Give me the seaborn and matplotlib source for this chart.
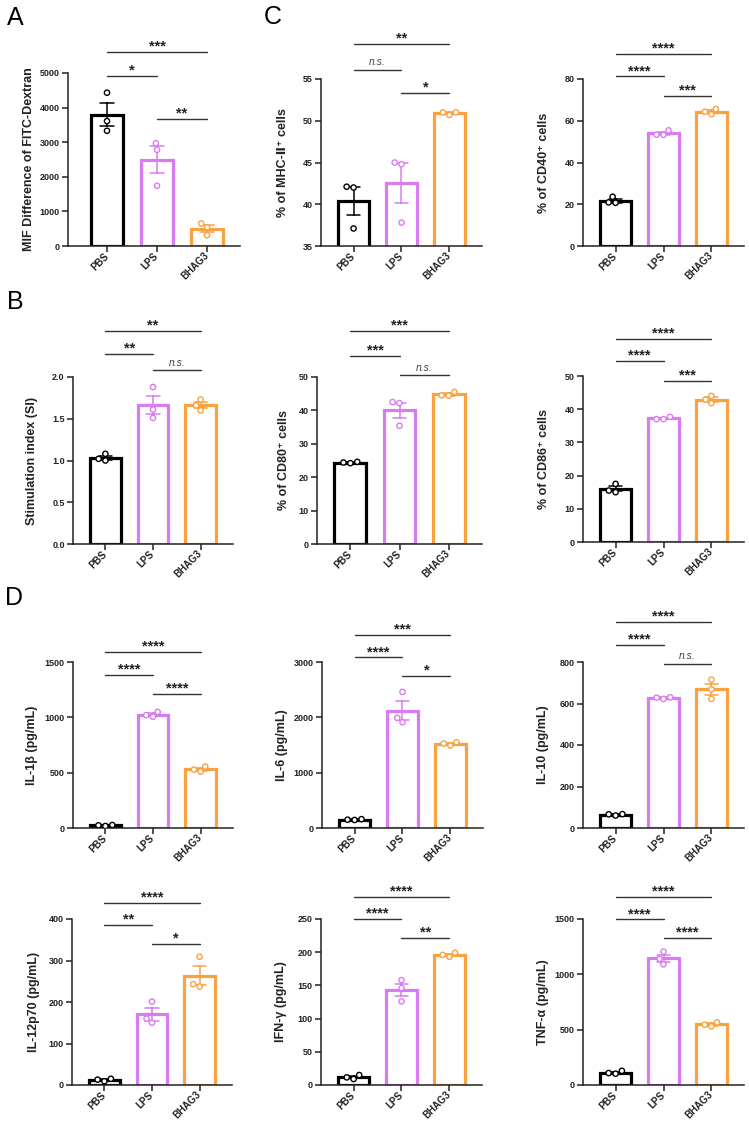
import numpy as np
import pandas as pd
import seaborn as sns
import matplotlib.pyplot as plt
from matplotlib.ticker import StrMethodFormatter

groups = ["PBS", "LPS", "BHAG3"]
colors = ["#000000", "#D97CF2", "#F9A23F"]

# values per group (PBS, LPS, BHAG3), 3 replicates each
mif = [[4430, 3610, 3330], [2970, 2780, 1740], [650, 540, 310]]
mhc = [[42.0, 42.1, 37.1], [44.8, 45.0, 37.8], [50.7, 51.0, 51.0]]
cd40 = [[20.7, 23.6, 20.9], [53.2, 55.4, 53.3], [63.1, 65.6, 64.3]]
si = [[1.00, 1.08, 1.02], [1.88, 1.61, 1.51], [1.73, 1.66, 1.60]]
cd80 = [[24.2, 24.6, 24.4], [42.2, 42.5, 35.4], [44.4, 45.5, 44.5]]
cd86 = [[15.0, 17.5, 15.5], [37.0, 37.7, 37.0], [41.8, 44.0, 42.9]]
il1b = [[18, 27, 24], [1005, 1050, 1020], [510, 555, 528]]
il6 = [[145, 160, 150], [2460, 1990, 1910], [1490, 1550, 1525]]
il10 = [[60, 67, 66], [622, 630, 628], [715, 668, 622]]
il12 = [[9, 15, 13], [201, 160, 150], [309, 243, 237]]
ifng = [[9, 15, 11.5], [158, 146, 126], [193, 199, 196]]
tnfa = [[102, 128, 108], [1205, 1140, 1090], [530, 566, 545]]

# significance: (PBS vs BHAG3, PBS vs LPS, LPS vs BHAG3)
sig_mif = ["***", "*", "**"]
sig_mhc = ["**", "n.s.", "*"]
sig_cd40 = ["****", "****", "***"]
sig_si = ["**", "**", "n.s."]
sig_cd80 = ["***", "***", "n.s."]
sig_cd86 = ["****", "****", "***"]
sig_il1b = ["****", "****", "****"]
sig_il6 = ["***", "****", "*"]
sig_il10 = ["****", "****", "n.s."]
sig_il12 = ["****", "**", "*"]
sig_ifng = ["****", "****", "**"]
sig_tnfa = ["****", "****", "****"]

panels = [
    ("MIF Difference of FITC-Dextran", mif, sig_mif, [0, 1000, 2000, 3000, 4000, 5000], 0),
    ("% of MHC-\u2161\u207a cells", mhc, sig_mhc, [35, 40, 45, 50, 55], 0),
    ("% of CD40\u207a cells", cd40, sig_cd40, [0, 20, 40, 60, 80], 0),
    ("Stimulation index (SI)", si, sig_si, [0.0, 0.5, 1.0, 1.5, 2.0], 1),
    ("% of CD80\u207a cells", cd80, sig_cd80, [0, 10, 20, 30, 40, 50], 0),
    ("% of CD86\u207a cells", cd86, sig_cd86, [0, 10, 20, 30, 40, 50], 0),
    ("IL-1\u03b2 (pg/mL)", il1b, sig_il1b, [0, 500, 1000, 1500], 0),
    ("IL-6 (pg/mL)", il6, sig_il6, [0, 1000, 2000, 3000], 0),
    ("IL-10 (pg/mL)", il10, sig_il10, [0, 200, 400, 600, 800], 0),
    ("IL-12p70 (pg/mL)", il12, sig_il12, [0, 100, 200, 300, 400], 0),
    ("IFN-\u03b3 (pg/mL)", ifng, sig_ifng, [0, 50, 100, 150, 200, 250], 0),
    ("TNF-\u03b1 (pg/mL)", tnfa, sig_tnfa, [0, 500, 1000, 1500], 0),
]

# layout in pixels: left, right, top, bottom of axes; y label centre; bracket heights (axes fraction)
boxes = [
    (68, 240, 73, 246), (321, 482, 79, 246), (583, 744, 79, 246),
    (73, 233, 377, 544), (317, 482, 377, 544), (583, 744, 376, 542),
    (73, 233, 662, 828), (322, 483, 662, 828), (583, 744, 662, 828),
    (72, 232, 919, 1085), (321, 482, 919, 1085), (583, 744, 919, 1085),
]
label_x = [29, 283, 544, 32, 284, 544, 32, 282, 543, 34, 281, 543]
bracket_y = [
    (1.121, 0.983, 0.734), (1.211, 1.056, 0.916), (1.151, 1.016, 0.900),
    (1.275, 1.140, 1.040), (1.277, 1.126, 1.010), (1.223, 1.089, 0.972),
    (1.060, 0.923, 0.809), (1.164, 1.028, 0.916), (1.241, 1.104, 0.990),
    (1.098, 0.962, 0.849), (1.134, 1.000, 0.887), (1.134, 0.998, 0.886),
]
pairs = [(0, 2), (0, 1), (1, 2)]

sns.set_style("ticks")
plt.rcParams["font.family"] = ["Liberation Sans", "DejaVu Sans"]
ink = "#222222"

W, H = 749, 1128
fig = plt.figure(figsize=(W / 100, H / 100), dpi=100)

for k, (ylabel, vals, sigs, yticks, dec) in enumerate(panels):
    l, r, t, b = boxes[k]
    ax = fig.add_axes([l / W, 1 - b / H, (r - l) / W, (b - t) / H])
    df = pd.DataFrame({"group": np.repeat(groups, 3), "value": np.concatenate(vals)})

    sns.barplot(data=df, x="group", y="value", hue="group", order=groups, hue_order=groups,
                palette=colors, fill=False, width=0.65, linewidth=2.3, errorbar="se",
                capsize=0.28, err_kws={"linewidth": 1.1}, legend=False, ax=ax)
    for ln in ax.lines:
        xd = np.asarray(ln.get_xdata(), dtype=float)
        ln.set_color(colors[int(round(np.nanmean(xd)))])

    sns.swarmplot(data=df, x="group", y="value", hue="group", order=groups, hue_order=groups,
                  palette=colors, size=3.8, linewidth=1, legend=False, ax=ax)
    for coll in ax.collections:
        fc = coll.get_facecolors()
        coll.set_edgecolors(fc)
        coll.set_facecolors("white")

    trans = ax.get_xaxis_transform()
    for (i, j), lab, fy in zip(pairs, sigs, bracket_y[k]):
        ax.plot([i, j], [fy, fy], transform=trans, color="#333333", lw=1.0, clip_on=False)
        if lab == "n.s.":
            ax.text((i + j) / 2, fy + 0.015, lab, transform=trans, ha="center", va="bottom",
                    fontsize=7.5, fontstyle="italic", color="#444444")
        else:
            ax.text((i + j) / 2, fy - 0.01, lab, transform=trans, ha="center", va="bottom",
                    fontsize=10.5, fontweight="bold", color=ink)

    ax.set_ylim(yticks[0], yticks[-1])
    ax.set_yticks(yticks)
    ax.yaxis.set_major_formatter(StrMethodFormatter("{x:." + str(dec) + "f}"))
    ax.set_xlim((-0.78, 2.66) if k == 0 else (-0.68, 2.68))
    ax.set_xlabel("")
    ax.set_ylabel(ylabel, fontsize=9, fontweight="bold", color=ink, va="center")
    ax.yaxis.set_label_coords((label_x[k] - l) / (r - l), 0.5)

    sns.despine(ax=ax)
    for s in ["left", "bottom"]:
        ax.spines[s].set_linewidth(1.1)
        ax.spines[s].set_color(ink)
    ax.tick_params(width=1.1, length=4, labelsize=6.5, color=ink, labelcolor=ink, pad=2)
    ax.tick_params(axis="x", labelsize=7)
    for tl in ax.get_yticklabels():
        tl.set_fontweight("bold")
    for tl in ax.get_xticklabels():
        tl.set_rotation(45)
        tl.set_ha("right")
        tl.set_va("center")
        tl.set_rotation_mode("anchor")
        tl.set_fontweight("bold")

for letter, x, y in [("A", 15, 18), ("B", 15, 302), ("C", 273, 17), ("D", 14, 598)]:
    fig.text(x / W, 1 - y / H, letter, fontsize=18, ha="center", va="center", color="black")

fig.savefig("out.png", dpi=100)
